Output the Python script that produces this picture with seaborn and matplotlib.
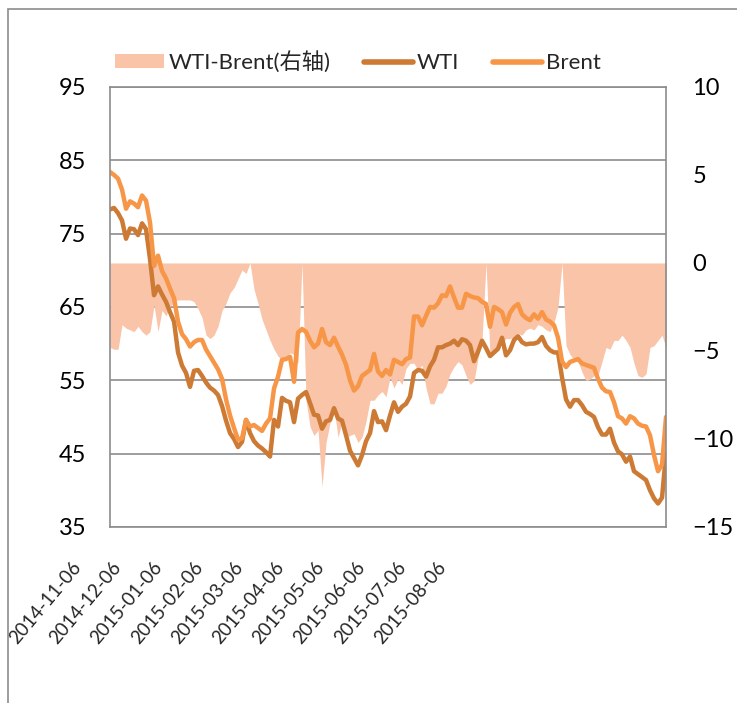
import numpy as np
import pandas as pd
import seaborn as sns
import matplotlib.pyplot as plt
from matplotlib.patches import Patch, Rectangle
from matplotlib.lines import Line2D

# values, one sample every few trading days
wti = [
    78.3, 78.5, 77.8, 76.8, 74.3, 75.7, 75.6, 74.8, 76.4, 75.6,
    71.5, 66.6, 67.8, 66.7, 65.7, 64.3, 63.0, 58.8, 57.0, 56.0,
    54.1, 56.3, 56.4, 55.6, 54.7, 54.0, 53.6, 53.0, 51.5, 49.5,
    47.8, 47.0, 45.9, 46.6, 49.6, 47.8, 46.7, 46.1, 45.7, 45.2,
    44.6, 49.6, 48.7, 52.6, 52.2, 52.0, 49.3, 52.5, 53.0, 53.4,
    51.9, 50.3, 50.2, 48.4, 49.4, 49.6, 51.2, 49.8, 49.5, 47.5,
    45.4, 44.4, 43.4, 44.8, 46.7, 47.8, 50.8, 49.3, 49.4, 48.2,
    50.2, 52.0, 50.7, 51.4, 51.8, 52.8, 56.0, 56.4, 56.3, 55.5,
    56.9, 57.8, 59.5, 59.5, 59.8, 60.0, 60.4, 59.8, 60.6, 60.4,
    59.8, 57.6, 58.9, 60.4, 59.4, 58.3, 58.8, 59.3, 60.8, 58.4,
    59.1, 60.5, 61.0, 60.2, 59.9, 60.0, 60.0, 60.2, 60.9, 59.7,
    59.1, 58.8, 58.8, 55.4, 52.4, 51.4, 52.3, 52.3, 51.6, 50.7,
    50.4, 50.0, 48.6, 47.6, 47.6, 48.4, 46.5, 45.3, 44.9, 43.9,
    44.6, 42.6, 42.2, 41.8, 41.4, 40.0, 38.9, 38.2, 39.0, 45.0,
]
brent = [
    83.4, 83.0, 82.5, 81.0, 78.4, 79.4, 79.1, 78.6, 80.2, 79.5,
    76.5, 70.6, 72.0, 69.9, 68.9, 67.5, 66.2, 63.0, 61.3, 60.6,
    59.6, 60.2, 60.5, 60.5, 59.2, 58.3, 57.4, 56.5, 55.2, 52.4,
    50.2, 48.5, 46.9, 47.1, 49.6, 48.7, 48.9, 48.5, 48.1, 49.1,
    49.8, 53.9, 55.5, 57.8, 57.9, 58.2, 54.8, 61.5, 62.0, 61.6,
    60.4, 59.5, 60.0, 62.0, 60.2, 59.8, 60.8, 59.6, 58.5, 57.1,
    55.0, 53.6, 54.2, 55.6, 56.0, 56.4, 58.6, 56.2, 55.6, 56.4,
    55.8, 57.8, 57.5, 57.2, 57.9, 58.1, 63.7, 63.7, 62.5, 63.8,
    65.0, 64.9, 65.5, 66.6, 66.5, 67.8, 66.3, 64.9, 64.9, 66.8,
    66.5, 66.3, 66.2, 65.7, 65.4, 62.3, 65.0, 64.7, 64.3, 62.6,
    64.2, 65.0, 65.4, 64.0, 63.5, 63.2, 64.0, 63.4, 64.3, 63.3,
    63.0, 62.5, 60.8, 57.6, 56.8, 57.5, 57.7, 57.9, 57.3, 57.1,
    56.9, 56.7, 55.2, 54.0, 53.5, 53.4, 52.0, 50.1, 49.8, 49.1,
    50.1, 49.8, 49.1, 48.8, 48.7, 47.5, 44.8, 42.6, 43.5, 50.0,
]
spread = [
    -4.8, -4.9, -4.9, -3.5, -3.7, -3.8, -3.9, -3.6, -3.9, -4.1,
    -3.9, -2.4, -3.9, -2.7, -3.0, -2.5, -2.2, -2.1, -2.1, -2.1,
    -2.1, -2.2, -2.6, -3.1, -4.1, -4.3, -4.1, -3.6, -2.7, -2.3,
    -1.7, -1.4, -0.9, -0.4, -0.6, 0.0, -1.5, -2.3, -3.2, -3.8,
    -4.4, -4.9, -5.3, -5.5, -5.4, -5.1, -5.2, -5.7, 0.0, -7.8,
    -9.3, -9.8, -9.5, -12.7, -10.2, -9.1, -8.3, -9.9, -9.0, -9.9,
    -9.8, -9.7, -10.2, -9.9, -9.0, -7.8, -7.8, -7.5, -7.3, -7.6,
    -6.5, -7.1, -6.6, -6.9, -6.0, -5.7, -5.7, -6.1, -5.8, -7.1,
    -8.0, -8.0, -7.4, -7.4, -7.0, -6.3, -5.9, -5.6, -5.8, -6.4,
    -6.9, -6.7, -5.4, -4.4, 0.0, -5.3, -5.0, -4.7, -4.5, -4.3,
    -4.3, -4.2, -4.0, -4.1, -3.8, -3.7, -3.8, -3.5, -3.6, -3.8,
    -3.9, -3.4, -2.5, 0.0, -4.7, -5.2, -5.5, -5.6, -6.2, -6.7,
    -6.6, -6.4, -6.4, -5.6, -4.8, -4.9, -4.4, -4.4, -4.1, -4.4,
    -4.8, -5.7, -6.4, -6.5, -6.3, -4.8, -4.7, -4.4, -4.1, -4.8,
]
date_labels = ["2014-11-06", "2014-12-06", "2015-01-06", "2015-02-06", "2015-03-06",
               "2015-04-06", "2015-05-06", "2015-06-06", "2015-07-06", "2015-08-06"]

wti_c = "#CD7A35"
brent_c = "#F79646"
area_c = "#F9C4A8"
grey = "#8C8C8C"

sns.set_theme(style="white")
plt.rcParams["font.family"] = ["Lato", "Noto Sans CJK SC", "DejaVu Sans"]

df = pd.DataFrame({"t": np.arange(len(wti)), "WTI": wti, "Brent": brent, "spread": spread})

fig = plt.figure(figsize=(7.37, 7.03), dpi=100)
# bottom layer: left scale, gridlines
ax = fig.add_axes([0.1493, 0.2504, 0.7544, 0.6259])
# middle layer: spread area on the right scale
ax2 = ax.twinx()
# top layer: price lines on the left scale again, plus the plot border
ax3 = ax.twinx()
ax.set_zorder(1)
ax2.set_zorder(2)
ax3.set_zorder(3)
ax2.patch.set_visible(False)
ax3.patch.set_visible(False)

ax.set_ylim(35, 95)
ax.set_yticks(range(35, 96, 10))
ax.grid(axis="y", color=grey, lw=1.2)
ax.set_axisbelow(True)

ax2.fill_between(df["t"], df["spread"], 0, color=area_c, lw=0)
ax2.set_ylim(-15, 10)
ax2.set_yticks(range(-15, 11, 5))

sns.lineplot(data=df, x="t", y="WTI", ax=ax3, color=wti_c, lw=3.2, solid_joinstyle="round")
sns.lineplot(data=df, x="t", y="Brent", ax=ax3, color=brent_c, lw=3.2, solid_joinstyle="round")
ax3.set_ylim(35, 95)
ax3.set_xlim(0, len(wti) - 1)
ax3.set_xticks([])
ax3.tick_params(axis="y", left=False, right=False, labelleft=False, labelright=False)

for a in (ax, ax2, ax3):
    a.set_xlabel("")
    a.set_ylabel("")
ax.tick_params(axis="y", length=0, pad=17, labelsize=17, labelcolor="black")
ax2.tick_params(axis="y", length=0, pad=19, labelsize=17, labelcolor="black")
for a in (ax, ax2):
    for s in a.spines.values():
        s.set_visible(False)
for s in ax3.spines.values():
    s.set_color(grey)
    s.set_linewidth(1.2)

# date labels, evenly spaced as in the source
for i, lab in enumerate(date_labels):
    ax3.text((84 + 40.6 * i - 110) / 556, (527 - 559) / 440, lab, transform=ax3.transAxes,
             rotation=50, ha="right", va="top", fontsize=13.5)

handles = [Patch(facecolor=area_c, edgecolor="none"),
           Line2D([], [], color=wti_c, lw=4, solid_capstyle="round"),
           Line2D([], [], color=brent_c, lw=4, solid_capstyle="round")]
fig.legend(handles, ["WTI-Brent(右轴)", "WTI", "Brent"], loc="center",
           bbox_to_anchor=(358 / 737, 1 - 62 / 703), ncol=3, frameon=False,
           fontsize=16, handlelength=2.2, handleheight=0.6, handletextpad=0.2,
           columnspacing=1.5)

# outer chart border
fig.add_artist(Rectangle((8 / 737, -0.1), 1.2, 1.1 - 9 / 703, transform=fig.transFigure,
                         fill=False, ec=grey, lw=1.2))

fig.savefig("out.png", dpi=100)
